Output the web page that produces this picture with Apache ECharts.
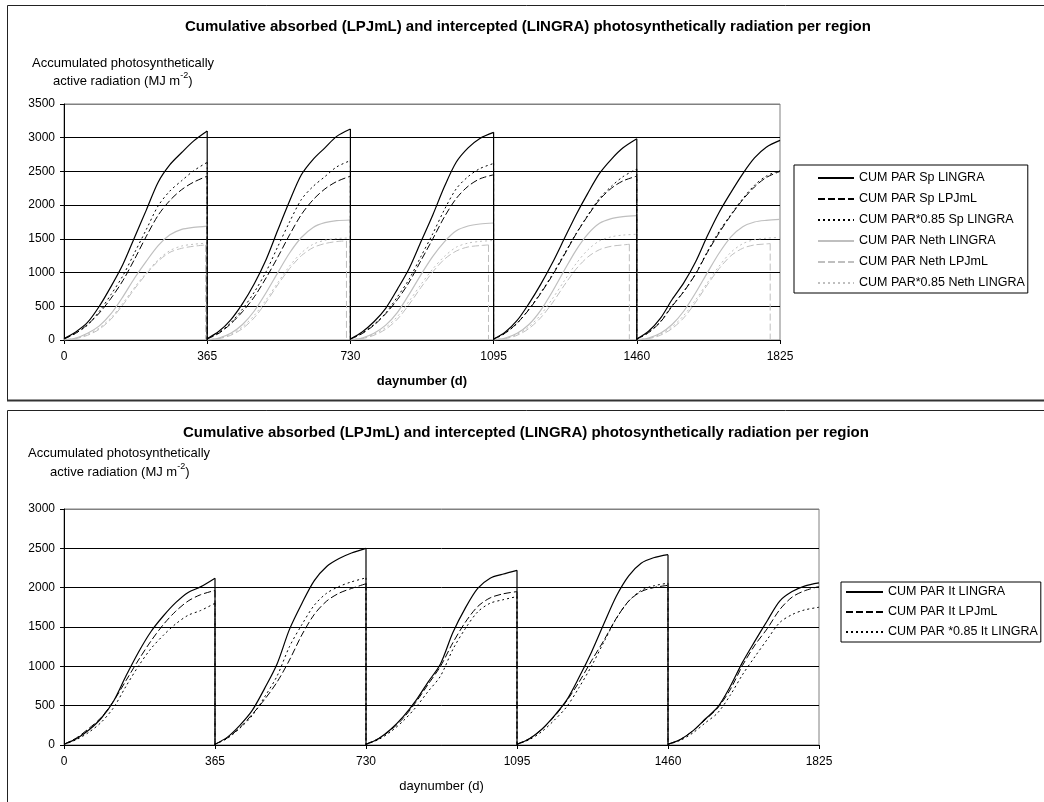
<!DOCTYPE html>
<html>
<head>
<meta charset="utf-8">
<script src="https://cdn.jsdelivr.net/npm/echarts@6/dist/echarts.min.js"></script>
<style>
html,body{margin:0;padding:0;background:#fff;}
#chart{width:1044px;height:802px;}
</style>
</head>
<body>
<div id="chart"></div>
<script>
// ---------- data ----------
const YEAR = 365;
const DAYS = [0, 30, 60, 90, 120, 150, 180, 210, 240, 270, 300, 330, 365];
const X_MAX = 1825;

const TITLE = 'Cumulative absorbed (LPJmL) and intercepted (LINGRA) photosynthetically radiation per region';
const Y_NAME_1 = 'Accumulated photosynthetically';
const Y_NAME_2 = '{b|active radiation (MJ m}{sup|-2}{b|)}';
const X_NAME = 'daynumber (d)';

// Top panel: Spain and Netherlands (values per year at DAYS)
const SP_LINGRA = [
  [20, 120, 260, 500, 795, 1120, 1525, 1930, 2340, 2600, 2780, 2950, 3100],
  [20, 130, 300, 540, 835, 1190, 1630, 2060, 2450, 2680, 2850, 3020, 3130],
  [15, 120, 270, 470, 755, 1065, 1460, 1855, 2280, 2640, 2850, 2990, 3080],
  [15, 120, 290, 540, 825, 1145, 1500, 1855, 2175, 2470, 2680, 2850, 2985],
  [15, 130, 320, 600, 850, 1160, 1545, 1895, 2190, 2465, 2700, 2860, 2960]
];
const SP_LPJML = [
  [15, 100, 230, 400, 620, 880, 1200, 1540, 1850, 2070, 2230, 2340, 2430],
  [15, 100, 240, 420, 640, 920, 1230, 1560, 1860, 2080, 2240, 2350, 2430],
  [15, 95, 220, 390, 600, 860, 1180, 1500, 1830, 2100, 2280, 2390, 2450],
  [15, 105, 250, 450, 690, 960, 1260, 1570, 1840, 2080, 2250, 2360, 2430],
  [15, 110, 265, 500, 720, 980, 1300, 1590, 1850, 2080, 2270, 2410, 2500]
];
const SP_LINGRA_085 = [
  [17, 102, 221, 425, 676, 952, 1296, 1641, 1989, 2210, 2363, 2508, 2635],
  [17, 111, 255, 459, 710, 1012, 1386, 1751, 2083, 2278, 2423, 2567, 2661],
  [13, 102, 230, 400, 642, 905, 1241, 1577, 1938, 2244, 2423, 2542, 2618],
  [13, 102, 247, 459, 701, 973, 1275, 1577, 1849, 2100, 2278, 2423, 2537],
  [13, 111, 272, 510, 723, 986, 1313, 1611, 1862, 2095, 2295, 2431, 2516]
];
const NETH_LINGRA = [
  [5, 30, 100, 210, 390, 640, 920, 1170, 1400, 1560, 1640, 1670, 1690],
  [5, 30, 100, 230, 430, 700, 1000, 1290, 1520, 1670, 1740, 1770, 1780],
  [5, 30, 100, 220, 410, 680, 970, 1240, 1460, 1620, 1690, 1720, 1735],
  [5, 30, 100, 230, 440, 720, 1030, 1330, 1570, 1730, 1800, 1830, 1845],
  [5, 30, 100, 230, 430, 700, 1000, 1290, 1530, 1680, 1750, 1775, 1790]
];
const NETH_LPJML = [
  [0, 20, 70, 160, 310, 520, 760, 980, 1170, 1300, 1360, 1390, 1410],
  [0, 20, 70, 170, 330, 560, 820, 1060, 1250, 1370, 1430, 1460, 1470],
  [0, 20, 70, 160, 310, 530, 780, 1010, 1200, 1320, 1380, 1400, 1410],
  [0, 20, 70, 170, 330, 550, 810, 1050, 1230, 1340, 1390, 1410, 1420],
  [0, 20, 70, 170, 330, 560, 820, 1060, 1250, 1360, 1410, 1425, 1430]
];
// day of year of the last LPJmL Neth value (the series drops to 0 there)
const NETH_LPJML_END = [361, 355, 352, 346, 340];
const NETH_LINGRA_085 = [
  [4, 26, 85, 179, 332, 544, 782, 995, 1190, 1326, 1394, 1420, 1437],
  [4, 26, 85, 196, 366, 595, 850, 1097, 1292, 1420, 1479, 1505, 1513],
  [4, 26, 85, 187, 349, 578, 825, 1054, 1241, 1377, 1437, 1462, 1475],
  [4, 26, 85, 196, 374, 612, 876, 1131, 1335, 1471, 1530, 1556, 1568],
  [4, 26, 85, 196, 366, 595, 850, 1097, 1301, 1428, 1488, 1509, 1522]
];

// Bottom panel: Italy
const IT_LINGRA = [
  [10, 80, 190, 340, 560, 880, 1180, 1440, 1640, 1810, 1940, 2010, 2120],
  [10, 100, 250, 440, 720, 1030, 1470, 1800, 2090, 2270, 2370, 2440, 2500],
  [10, 80, 200, 360, 560, 800, 1030, 1430, 1740, 1990, 2120, 2170, 2220],
  [10, 80, 200, 370, 570, 860, 1180, 1540, 1890, 2150, 2310, 2380, 2420],
  [10, 70, 180, 330, 480, 740, 1050, 1320, 1580, 1830, 1950, 2020, 2060]
];
const IT_LPJML = [
  [10, 90, 210, 350, 560, 820, 1080, 1320, 1530, 1700, 1830, 1910, 1965],
  [10, 90, 220, 390, 580, 800, 1080, 1400, 1660, 1830, 1930, 1990, 2050],
  [10, 80, 190, 340, 540, 770, 1000, 1300, 1560, 1760, 1870, 1920, 1950],
  [10, 80, 200, 360, 560, 800, 1070, 1330, 1610, 1830, 1950, 2000, 2030],
  [10, 70, 180, 320, 470, 700, 1010, 1270, 1480, 1720, 1880, 1960, 2015]
];
const IT_LINGRA_085 = [
  [9, 68, 162, 289, 476, 748, 1003, 1224, 1394, 1539, 1649, 1709, 1802],
  [9, 85, 213, 374, 612, 876, 1250, 1530, 1777, 1930, 2015, 2074, 2125],
  [9, 68, 170, 306, 476, 680, 876, 1216, 1479, 1692, 1802, 1845, 1887],
  [9, 68, 170, 315, 485, 731, 1003, 1309, 1607, 1828, 1964, 2023, 2057],
  [9, 60, 153, 281, 408, 629, 893, 1122, 1343, 1556, 1658, 1717, 1751]
];

const NAMES_TOP = ['CUM PAR Sp LINGRA', 'CUM PAR Sp LPJmL', 'CUM PAR*0.85 Sp LINGRA',
                   'CUM PAR Neth LINGRA', 'CUM PAR Neth LPJmL', 'CUM PAR*0.85 Neth LINGRA'];
const NAMES_BOTTOM = ['CUM PAR It LINGRA', 'CUM PAR It LPJmL', 'CUM PAR *0.85 It LINGRA'];

// ---------- build ----------
function curveData(years, ends) {
  const out = [];
  years.forEach((vals, k) => {
    const base = k * YEAR;
    vals.forEach((v, i) => {
      const day = (i === vals.length - 1 && ends) ? ends[k] : DAYS[i];
      out.push([base + day, v]);
    });
    out.push([base + YEAR, null]);
  });
  return out;
}
function dropData(years, ends, dropLast) {
  const out = [];
  years.forEach((vals, k) => {
    if (k === years.length - 1 && !dropLast) return;
    const x = k * YEAR + (ends ? ends[k] : YEAR);
    out.push([x, vals[vals.length - 1]], [x, 0], [x, null]);
  });
  return out;
}
const BLACK = '#000000';
const GRAY = '#bfbfbf';
const SOLID = 'solid', DASH = [7, 3], DOT = [2, 3];

function makeSeries(name, years, grid, color, type, width, z, ends, dropLast) {
  const ls = { color: color, width: width, type: type, cap: 'butt' };
  return [
    { name: name, type: 'line', xAxisIndex: grid, yAxisIndex: grid, data: curveData(years, ends),
      smooth: 0.3, symbol: 'none', showSymbol: false, lineStyle: ls, itemStyle: { color: color }, z: z,
      connectNulls: false, silent: true },
    { name: name, type: 'line', xAxisIndex: grid, yAxisIndex: grid, data: dropData(years, ends, dropLast),
      smooth: false, symbol: 'none', showSymbol: false, lineStyle: ls, itemStyle: { color: color }, z: z,
      connectNulls: false, silent: true }
  ];
}

const series = [].concat(
  makeSeries(NAMES_TOP[3], NETH_LINGRA, 0, GRAY, SOLID, 1.2, 2),
  makeSeries(NAMES_TOP[4], NETH_LPJML, 0, GRAY, DASH, 1, 2, NETH_LPJML_END, true),
  makeSeries(NAMES_TOP[5], NETH_LINGRA_085, 0, GRAY, DOT, 1, 2),
  makeSeries(NAMES_TOP[2], SP_LINGRA_085, 0, BLACK, DOT, 1, 3),
  makeSeries(NAMES_TOP[1], SP_LPJML, 0, BLACK, DASH, 1, 3),
  makeSeries(NAMES_TOP[0], SP_LINGRA, 0, BLACK, SOLID, 1.2, 4),
  makeSeries(NAMES_BOTTOM[2], IT_LINGRA_085, 1, BLACK, DOT, 1, 3),
  makeSeries(NAMES_BOTTOM[1], IT_LPJML, 1, BLACK, DASH, 1, 3),
  makeSeries(NAMES_BOTTOM[0], IT_LINGRA, 1, BLACK, SOLID, 1.2, 4)
);

const FONT = 'Liberation Sans, Arial, Helvetica, sans-serif';
const plain = v => String(v);

function xAxis(grid, boldName) {
  return {
    type: 'value', gridIndex: grid, min: 0, max: X_MAX, interval: YEAR,
    name: X_NAME, nameLocation: 'middle', nameGap: 35,
    nameTextStyle: { fontFamily: FONT, fontSize: 13, color: '#000', fontWeight: boldName ? 'bold' : 'normal' },
    axisLine: { show: true, lineStyle: { color: '#000', width: 1 } },
    axisTick: { show: true, inside: false, length: 4, lineStyle: { color: '#000' } },
    axisLabel: { fontFamily: FONT, fontSize: 12, color: '#000', margin: 11, formatter: plain },
    splitLine: { show: false }
  };
}
function yAxis(grid, max) {
  const n = max / 500 + 1;
  const cols = [];
  for (let i = 0; i < n; i++) cols.push(i === n - 1 ? '#808080' : '#000');
  return {
    type: 'value', gridIndex: grid, min: 0, max: max, interval: 500,
    axisLine: { show: true, lineStyle: { color: '#000', width: 1 } },
    axisTick: { show: true, inside: false, length: 4, lineStyle: { color: '#000' } },
    axisLabel: { fontFamily: FONT, fontSize: 12, color: '#000', margin: 9, formatter: plain },
    splitLine: { show: true, lineStyle: { color: cols, width: 1 } }
  };
}

const nameRich = {
  b: { fontSize: 13, fontFamily: FONT, fill: '#000', lineHeight: 20, verticalAlign: 'middle' },
  sup: { fontSize: 9, fontFamily: FONT, fill: '#000', lineHeight: 9, verticalAlign: 'top' }
};

const option = {
  animation: false,
  backgroundColor: '#ffffff',
  title: [
    { text: TITLE, left: 180, top: 14, textStyle: { fontFamily: FONT, fontSize: 15, fontWeight: 'bold', color: '#000' } },
    { text: TITLE, left: 178, top: 420, textStyle: { fontFamily: FONT, fontSize: 15, fontWeight: 'bold', color: '#000' } }
  ],
  grid: [
    { left: 64, top: 104, width: 716, height: 236, show: true, borderColor: '#808080', borderWidth: 1, backgroundColor: 'transparent' },
    { left: 64, top: 509, width: 755, height: 236, show: true, borderColor: '#808080', borderWidth: 1, backgroundColor: 'transparent' }
  ],
  xAxis: [xAxis(0, true), xAxis(1, false)],
  yAxis: [yAxis(0, 3500), yAxis(1, 3000)],
  legend: [
    { data: NAMES_TOP, orient: 'vertical', left: 794, top: 165, padding: [6, 3, 3, 23],
      itemWidth: 36, itemHeight: 14, itemGap: 7, borderColor: '#000', borderWidth: 1,
      itemStyle: { opacity: 0 },
      textStyle: { fontFamily: FONT, fontSize: 12.5, color: '#000', lineHeight: 14 }, selectedMode: false },
    { data: NAMES_BOTTOM, orient: 'vertical', left: 841, top: 582, padding: [3, 3, 3, 4],
      itemWidth: 37, itemHeight: 14, itemGap: 6, borderColor: '#000', borderWidth: 1,
      itemStyle: { opacity: 0 },
      textStyle: { fontFamily: FONT, fontSize: 12.5, color: '#000', lineHeight: 14 }, selectedMode: false }
  ],
  graphic: [
    { type: 'rect', shape: { x: 7.5, y: 5.5, width: 1200, height: 395 }, style: { fill: 'none', stroke: '#222', lineWidth: 1 }, silent: true },
    { type: 'line', shape: { x1: 7, y1: 400.5, x2: 1100, y2: 400.5 }, style: { stroke: '#333', lineWidth: 2 }, silent: true },
    { type: 'rect', shape: { x: 7.5, y: 410.5, width: 1200, height: 500 }, style: { fill: 'none', stroke: '#222', lineWidth: 1 }, silent: true },
    { type: 'text', left: 32, top: 57, style: { text: Y_NAME_1, font: '13px ' + FONT, fill: '#000' } },
    { type: 'text', left: 53, top: 71, style: { text: Y_NAME_2, font: '13px ' + FONT, fill: '#000', rich: nameRich } },
    { type: 'text', left: 28, top: 447, style: { text: Y_NAME_1, font: '13px ' + FONT, fill: '#000' } },
    { type: 'text', left: 50, top: 462, style: { text: Y_NAME_2, font: '13px ' + FONT, fill: '#000', rich: nameRich } }
  ],
  series: series
};

const chart = echarts.init(document.getElementById('chart'), null, { renderer: 'canvas' });
chart.setOption(option);
</script>
</body>
</html>
